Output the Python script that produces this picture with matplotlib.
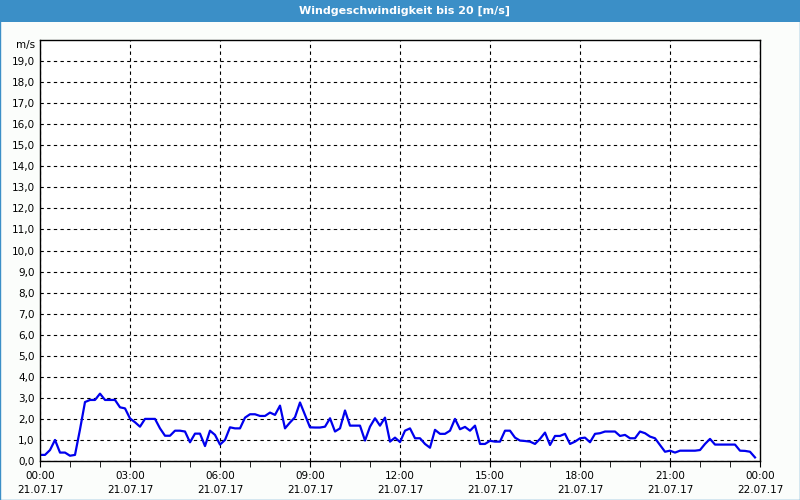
import numpy as np
import matplotlib.pyplot as plt
from matplotlib.patches import Rectangle

# wind speed in m/s, one value every 10 minutes from 21.07.17 00:00
speed = [
    0.29, 0.29, 0.52, 1.0, 0.4, 0.4, 0.25, 0.29, 1.5, 2.8, 2.9, 2.9,      # 00-01:50
    3.2, 2.9, 2.9, 2.9, 2.55, 2.5,                                        # 02:00-02:50
    2.02, 1.84, 1.63, 2.0, 2.0, 2.0, 1.55, 1.2, 1.2, 1.44, 1.44, 1.4,     # 03-04:50
    0.89, 1.3, 1.3, 0.71, 1.44, 1.24,                                     # 05-05:50
    0.78, 1.0, 1.6, 1.55, 1.55, 2.06, 2.22, 2.22, 2.14, 2.14, 2.3, 2.19,  # 06-07:50
    2.63, 1.55, 1.83, 2.08, 2.78, 2.19,                                   # 08-08:50
    1.6, 1.59, 1.59, 1.63, 2.03, 1.4, 1.55, 2.4, 1.68, 1.68, 1.68, 0.97,  # 09-10:50
    1.63, 2.03, 1.68, 2.06, 0.92, 1.11,                                   # 11-11:50
    0.9, 1.44, 1.55, 1.08, 1.08, 0.81, 0.63, 1.48, 1.29, 1.29, 1.44, 2.0, # 12-13:50
    1.51, 1.62, 1.44, 1.68, 0.81, 0.81,                                   # 14-14:50
    0.96, 0.92, 0.92, 1.44, 1.44, 1.11, 0.97, 0.95, 0.92, 0.81, 1.05, 1.35, # 15-16:50
    0.76, 1.19, 1.19, 1.29, 0.81, 0.92,                                   # 17-17:50
    1.08, 1.11, 0.89, 1.29, 1.32, 1.4, 1.4, 1.4, 1.19, 1.24, 1.08, 1.08,  # 18-19:50
    1.4, 1.32, 1.16, 1.08, 0.76, 0.44,                                    # 20-20:50
    0.49, 0.4, 0.49, 0.49, 0.49, 0.49, 0.52, 0.81, 1.05, 0.78, 0.78, 0.78, # 21-22:50
    0.78, 0.78, 0.49, 0.48, 0.44, 0.17,                                   # 23-23:50
]
hours = np.arange(len(speed)) / 6.0

x_ticks = [0, 3, 6, 9, 12, 15, 18, 21, 24]
x_labels = ['00:00\n21.07.17', '03:00\n21.07.17', '06:00\n21.07.17', '09:00\n21.07.17',
            '12:00\n21.07.17', '15:00\n21.07.17', '18:00\n21.07.17', '21:00\n21.07.17',
            '00:00\n22.07.17']
y_ticks = list(range(0, 20))
y_labels = ['%d,0' % v for v in y_ticks]

bg = '#fbfdfb'
fig = plt.figure(figsize=(8, 5), dpi=100, facecolor=bg)

# title bar
fig.patches.append(Rectangle((0, 1 - 22 / 500), 1, 22 / 500, transform=fig.transFigure,
                             facecolor='#3b8fc7', edgecolor='none'))
fig.patches.append(Rectangle((0, 0), 1, 1, transform=fig.transFigure,
                             facecolor='none', edgecolor='#3b8fc7', linewidth=1.0))
fig.text(0.506, 1 - 11 / 500, 'Windgeschwindigkeit bis 20 [m/s]', color='white',
         fontsize=8, fontweight='bold', ha='center', va='center')

ax = fig.add_axes([40 / 800, 39 / 500, 720 / 800, 421 / 500])
ax.set_facecolor('white')
ax.plot(hours, speed, color='#0000ee', linewidth=1.6)

ax.set_xlim(0, 24)
ax.set_ylim(0, 20)
ax.set_xticks(x_ticks)
ax.set_xticklabels(x_labels, fontsize=7.5, linespacing=1.5)
ax.set_xticks(range(25), minor=True)
ax.set_yticks(y_ticks)
ax.set_yticklabels(y_labels, fontsize=7.5)
ax.tick_params(axis='x', which='both', length=4, direction='out', pad=3)
ax.tick_params(axis='y', length=0, pad=4)

ax.grid(True, which='major', color='black', linestyle=(0, (3, 3)), linewidth=0.8)
for s in ax.spines.values():
    s.set_color('black')
    s.set_linewidth(1)

fig.text(35 / 800, 1 - 45 / 500, 'm/s', fontsize=7.5, ha='right', va='center')

fig.savefig('out.png', dpi=100, facecolor=bg)
